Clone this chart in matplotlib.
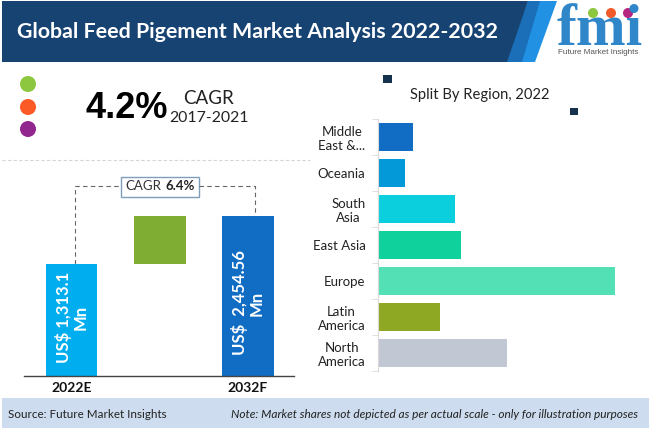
#!/usr/bin/env python3
import numpy as np
import matplotlib
matplotlib.use('Agg')
import matplotlib.pyplot as plt
from matplotlib.patches import Polygon, Rectangle, Circle

W, H = 649, 430

years = ['2022E', '2032F']
market_size = [1313.1, 2454.56]
market_labels = ['US$ 1,313.1\nMn', 'US$  2,454.56\nMn']

regions = ['North\nAmerica', 'Latin\nAmerica', 'Europe', 'East Asia',
           'South\nAsia', 'Oceania', 'Middle\nEast &...']
region_share = [129, 62, 237, 83, 77, 27, 35]
region_colors = ['#c1c7d3', '#8fa823', '#54e0b5', '#0fd19b',
                 '#0bcfdd', '#0398d8', '#116cc4']

plt.rcParams['font.family'] = ['Lato', 'DejaVu Sans']

fig = plt.figure(figsize=(W / 100, H / 100), dpi=100, facecolor='white')


def px_axes(x0, y_top, x1, y_bot):
    return fig.add_axes([x0 / W, 1 - y_bot / H, (x1 - x0) / W, (y_bot - y_top) / H])


# background layer, coordinates are pixels from the top left
bg = fig.add_axes([0, 0, 1, 1])
bg.set_xlim(0, W)
bg.set_ylim(H, 0)
bg.axis('off')

bg.add_patch(Polygon([(557, 1), (535, 62), (505, 62), (528, 1)], color='#2191e4', lw=0))
bg.add_patch(Polygon([(540, 1), (522, 62), (505, 62), (528, 1)], color='#1a6fb8', lw=0))
bg.add_patch(Polygon([(2, 1), (528, 1), (507, 62), (2, 62)], color='#174373', lw=0))
bg.text(17, 32, 'Global Feed Pigement Market Analysis 2022-2032', color='white',
        fontsize=15.4, fontweight='bold', va='center', ha='left')

# logo
bg.text(600, 45, 'fmi', color='#2f86c9', fontsize=43, fontweight='bold',
        family='Liberation Serif', ha='center', va='baseline')
for stripe_y in range(19, 46, 4):
    bg.plot([555, 645], [stripe_y, stripe_y], color='white', lw=0.7)
bg.text(598.5, 53, 'Future Market Insights', color='#555555', fontsize=5.9,
        ha='center', va='center', family='Liberation Sans')
for cx, c in [(593, '#8dc63f'), (611, '#f15a29'), (628, '#b5267e')]:
    bg.add_patch(Circle((cx, 13), 5, color=c, lw=0))

# dots and big number
for cy, c in [(84, '#8dc63f'), (107, '#fb5a27'), (129, '#92278f')]:
    bg.add_patch(Circle((28, cy), 8, color=c, lw=0))
bg.text(86, 109, '4.2%', color='black', fontsize=26, fontweight='bold',
        ha='left', va='center', family='Liberation Sans')
bg.text(209, 98, 'CAGR', color='#222222', fontsize=13.5, ha='center', va='center')
bg.text(209, 118, '2017-2021', color='#222222', fontsize=11.4, ha='center', va='center')

# dashed separator
bg.plot([2, 310], [160, 160], color='#d5d5d5', lw=0.8, ls=(0, (3, 2)))

# connector and CAGR box
bg.plot([74.5, 74.5, 120], [264, 186, 186], color='#666666', lw=0.8, ls=(0, (4, 3)))
bg.plot([199, 254.5, 254.5], [186, 186, 216], color='#666666', lw=0.8, ls=(0, (4, 3)))
bg.add_patch(Rectangle((120.5, 176.5), 78, 20, fc='white', ec='#7d9fbc', lw=1))
bg.text(125, 186.5, 'CAGR', color='#333333', fontsize=9.5, ha='left', va='center')
bg.text(166, 186.5, '6.4%', color='#222222', fontsize=9.5, fontweight='bold',
        ha='left', va='center')

# little markers around the right title
bg.add_patch(Rectangle((383, 75), 9, 8, color='#17324d', lw=0))
bg.add_patch(Rectangle((570, 108), 8, 7, color='#17324d', lw=0))
bg.text(480, 95, 'Split By Region, 2022', color='#222222', fontsize=10.6,
        ha='center', va='center')

# footer
bg.add_patch(Rectangle((2, 398), 647, 30, color='#cddcee', lw=0))
bg.text(8, 414, 'Source: Future Market Insights', color='#222222', fontsize=8.35,
        ha='left', va='center')
bg.text(638, 414, 'Note: Market shares not depicted as per actual scale - only for illustration purposes',
        color='#222222', fontsize=8.6, style='italic', ha='right', va='center')

# waterfall, the bars are not to scale so the axis starts below zero
base = -1350
ax = px_axes(24, 200, 294, 376)
ax.patch.set_alpha(0)
ax.set_xlim(0, 270)
ax.set_ylim(base, base + (market_size[1] - market_size[0]) / 48 * 176)
xpos = [47.5, 224]
ax.bar(xpos[0], market_size[0] - base, 51, bottom=base, color='#00adef')
ax.bar(xpos[1], market_size[1] - base, 52, bottom=base, color='#116cc4')
ax.bar(136, market_size[1] - market_size[0], 52, bottom=market_size[0], color='#7fac32')
for x, val, label, frac in zip(xpos, market_size, market_labels, [0.527, 0.456]):
    ax.text(x, base + (val - base) * frac, label, color='white',
            rotation=90, fontsize=12, fontweight='bold', ha='center', va='center',
            linespacing=1.05, multialignment='center')
for side in ['top', 'left', 'right']:
    ax.spines[side].set_visible(False)
ax.spines['bottom'].set_color('#444444')
ax.spines['bottom'].set_linewidth(1)
ax.set_yticks([])
ax.set_xticks(xpos)
ax.set_xticklabels(years, fontsize=10, fontweight='bold', color='#111111')
ax.tick_params(axis='x', length=0, pad=4)

# region bars
ax2 = px_axes(378, 119, 640, 371)
ax2.patch.set_alpha(0)
ypos = np.arange(len(regions))
ax2.barh(ypos, region_share, height=28 / 36, color=region_colors)
ax2.set_xlim(0, 262)
ax2.set_ylim(-0.5, len(regions) - 0.5)
for side in ['top', 'bottom', 'right']:
    ax2.spines[side].set_visible(False)
ax2.spines['left'].set_color('#d9d9d9')
ax2.set_xticks([])
ax2.set_yticks(ypos)
ax2.set_yticklabels(regions, fontsize=9.5, color='#222222', linespacing=1.25,
                    multialignment='center')
ax2.set_yticks(np.arange(len(regions) + 1) - 0.5, minor=True)
ax2.tick_params(axis='y', which='major', length=0, pad=9)
ax2.tick_params(axis='y', which='minor', length=4, color='#d9d9d9')

fig.savefig('out.png', dpi=100)
